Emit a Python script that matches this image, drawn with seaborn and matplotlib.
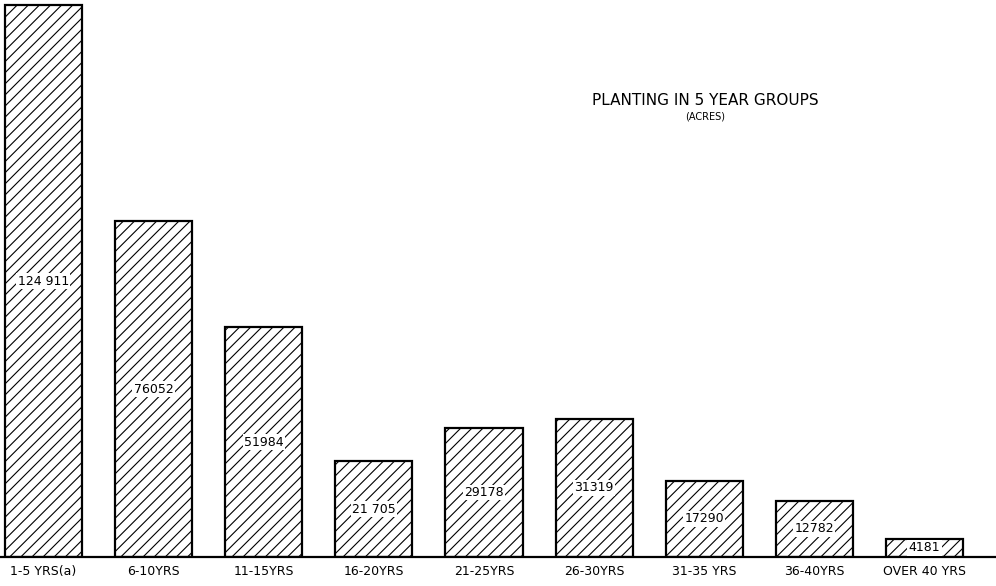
import matplotlib
matplotlib.use("Agg")
import seaborn as sns
from matplotlib import pyplot as plt

groups = ["1-5 YRS(a)", "6-10YRS", "11-15YRS", "16-20YRS", "21-25YRS",
          "26-30YRS", "31-35 YRS", "36-40YRS", "OVER 40 YRS"]
acres = [124911, 76052, 51984, 21705, 29178, 31319, 17290, 12782, 4181]
acre_labels = ["124 911", "76052", "51984", "21 705", "29178",
               "31319", "17290", "12782", "4181"]

sns.set_theme(style="white")
plt.rcParams['font.family'] = ['DejaVu Sans']
plt.rcParams['hatch.linewidth'] = 0.8
plt.rcParams['text.color'] = 'black'
plt.rcParams['xtick.color'] = 'black'

fig = plt.figure(figsize=(9.96, 5.86), dpi=100)
ax = fig.add_axes([0, 0.0495, 1, 0.9505])

sns.barplot(x=groups, y=acres, color="white", saturation=1, edgecolor="black",
            linewidth=1.6, width=0.7, ax=ax)
for bar in ax.patches:
    bar.set_hatch("///")

for i, (v, lab) in enumerate(zip(acres, acre_labels)):
    ax.text(i, v / 2, lab, ha="center", va="center", fontsize=9, color="black",
            bbox=dict(facecolor="white", edgecolor="none", pad=1.0))

ax.set_xlim(-0.395, 8.65)
ax.set_ylim(0, 126100)
ax.set_yticks([])
sns.despine(ax=ax, left=True, top=True, right=True)
ax.spines['bottom'].set_color('black')
ax.spines['bottom'].set_linewidth(1.6)
ax.tick_params(axis='x', length=0, pad=6, labelsize=9, labelcolor='black')

ax.text(0.708, 0.82, "PLANTING IN 5 YEAR GROUPS", transform=ax.transAxes,
        ha="center", va="center", fontsize=11, color="black")
ax.text(0.708, 0.79, "(ACRES)", transform=ax.transAxes,
        ha="center", va="center", fontsize=7, color="black")

plt.savefig("out.png", dpi=100)
